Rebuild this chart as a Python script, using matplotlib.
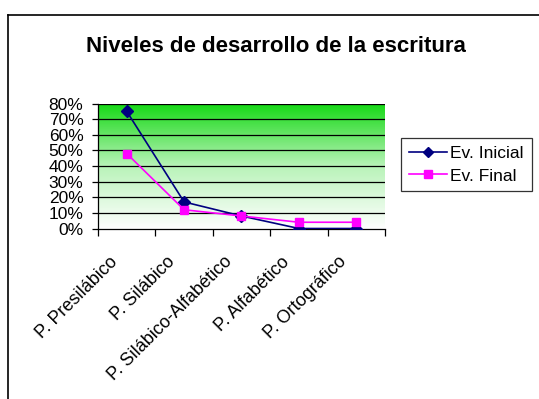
import numpy as np
import matplotlib
matplotlib.use("Agg")
import matplotlib.pyplot as plt
import matplotlib.transforms as mtransforms
from matplotlib.colors import LinearSegmentedColormap
from matplotlib.ticker import PercentFormatter, FixedLocator

plt.rcParams['font.family'] = ['Liberation Sans', 'DejaVu Sans']

# datos
categorias = ['P. Presilábico', 'P. Silábico', 'P. Silábico-Alfabético',
              'P. Alfabético', 'P. Ortográfico']
ev_inicial = [75, 17, 8, 0, 0]
ev_final = [48, 12, 8, 4, 4]

fig = plt.figure(figsize=(5.39, 3.99), dpi=100)

# marco del grafico (solo arriba e izquierda se ven)
fig.add_artist(plt.Line2D([8/539, 8/539], [0, 1 - 15/399], color='black', lw=1.2))
fig.add_artist(plt.Line2D([8/539, 1], [1 - 15/399, 1 - 15/399], color='black', lw=1.2))

ax = fig.add_axes([98/539, 1 - 228.5/399, 287/539, 125/399])

x = np.arange(len(categorias))
ax.set_xlim(-0.5, len(categorias) - 0.5)
ax.set_ylim(0, 80)

# degradado verde
cmap = LinearSegmentedColormap.from_list('verde', ['#ffffff', '#b8f3b8', '#14d814'])
grad = np.linspace(0, 1, 256).reshape(-1, 1)
ax.imshow(grad, cmap=cmap, origin='lower', aspect='auto',
          extent=[-0.5, len(categorias) - 0.5, 0, 80], zorder=0)

for yv in range(10, 90, 10):
    ax.axhline(yv, color='black', lw=0.9, zorder=1)

ax.plot(x, ev_inicial, color='#000080', marker='D', markersize=6,
        lw=1.2, label='Ev. Inicial', zorder=3)
ax.plot(x, ev_final, color='#ff00ff', marker='s', markersize=6,
        lw=1.2, label='Ev. Final', zorder=3)

ax.yaxis.set_major_locator(FixedLocator(range(0, 90, 10)))
ax.yaxis.set_major_formatter(PercentFormatter(decimals=0))
ax.set_xticks(np.arange(-0.5, len(categorias), 1.0))
ax.set_xticklabels([])
ax.set_xticks(x, minor=True)
ax.set_xticklabels(categorias, minor=True, rotation=45, ha='right',
                   rotation_mode='anchor', fontsize=13)
ax.tick_params(axis='x', which='minor', length=0, pad=18)
ax.tick_params(axis='x', which='major', length=5, direction='out', width=0.9)
ax.tick_params(axis='y', length=4.5, labelsize=12.5, pad=6, width=0.9)

desplaza = mtransforms.ScaledTranslation(-18/100, 0, fig.dpi_scale_trans)
for lab in ax.get_xticklabels(minor=True):
    lab.set_transform(lab.get_transform() + desplaza)

for s in ['left', 'bottom']:
    ax.spines[s].set_color('black')
    ax.spines[s].set_linewidth(0.9)
ax.spines['right'].set_visible(False)
ax.spines['top'].set_visible(False)

fig.text(276/539, 1 - 46/399, 'Niveles de desarrollo de la escritura',
         ha='center', va='center', fontsize=16, fontweight='bold')

leg = ax.legend(loc='center left', bbox_to_anchor=(401/539, 1 - 164.5/399),
                bbox_transform=fig.transFigure, fontsize=12.5, frameon=True,
                fancybox=False, edgecolor='black', handlelength=2.2,
                borderpad=0.45, labelspacing=0.45, handletextpad=0.2,
                markerscale=0.85, borderaxespad=0)
leg.get_frame().set_linewidth(0.9)

fig.savefig('out.png', dpi=100, facecolor='white')
